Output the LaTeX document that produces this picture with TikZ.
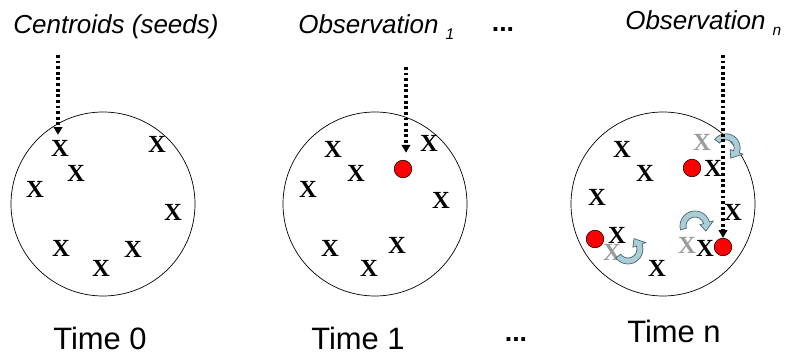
\documentclass[tikz,border=0pt]{standalone}
\usepackage{fontspec}
\setmainfont{Liberation Sans}
\newfontfamily\xfont{Liberation Serif}
\usetikzlibrary{arrows.meta,calc}
\definecolor{dotred}{RGB}{255,0,0}
\definecolor{oldgray}{RGB}{155,155,155}
\definecolor{bendfill}{RGB}{170,206,214}
\definecolor{bendline}{RGB}{75,100,110}
\tikzset{
  xmark/.style={font=\xfont\bfseries\fontsize{17.5}{19}\selectfont, inner sep=0pt},
  oldmark/.style={xmark, text=oldgray},
  obsdot/.style={circle, fill=dotred, draw=black, line width=0.4pt,
    minimum size=0.44cm, inner sep=0pt},
  cluster/.style={circle, draw, line width=0.5pt, minimum size=4.6cm, inner sep=0pt},
  obsline/.style={line width=2.3pt, dash pattern=on 2pt off 2pt,
    -{Triangle[length=5.5pt,width=6pt]}},
  toplabel/.style={font=\itshape\fontsize{18.5}{20}\selectfont, inner sep=0pt},
  timelabel/.style={font=\fontsize{22}{24}\selectfont, inner sep=0pt, anchor=base},
  bentarrow/.style={fill=bendfill, draw=bendline, line width=0.5pt},
}
% curved block arrow: centre, radius, from angle, to angle, tip angle
\newcommand{\bendarrow}[5]{%
  \pgfmathsetmacro\bendout{#2+0.075}
  \pgfmathsetmacro\bendin{#2-0.075}
  \pgfmathsetmacro\headout{#2+0.17}
  \pgfmathsetmacro\headin{#2-0.17}
  \filldraw[bentarrow] ($(#1)+(#3:\bendout)$)
    arc[start angle=#3, end angle=#4, radius=\bendout]
    -- ($(#1)+(#4:\headout)$) -- ($(#1)+(#5:#2)$) -- ($(#1)+(#4:\headin)$)
    -- ($(#1)+(#4:\bendin)$)
    arc[start angle=#4, end angle=#3, radius=\bendin] -- cycle;
}

\begin{document}
\begin{tikzpicture}
\useasboundingbox (0,0) rectangle (19.65,8.95);

%% Labels
\node[toplabel, anchor=base] (lab0) at (2.9,8.1) {Centroids (seeds)};
\node[toplabel, anchor=base west] (lab1) at (7.45,8.1)
  {Observation \raisebox{-0.4ex}{\fontsize{11}{12}\selectfont 1}};
\node[toplabel, font=\bfseries\fontsize{19}{20}\selectfont, anchor=base] (dtop) at (12.575,8.15) {...};
\node[toplabel, anchor=base west] (labn) at (15.625,8.2)
  {Observation \raisebox{-0.4ex}{\fontsize{11}{12}\selectfont n}};
\node[timelabel] (t0) at (2.5,0.2) {Time 0};
\node[timelabel] (t1) at (8.95,0.2) {Time 1};
\node[timelabel, font=\bfseries\fontsize{19}{20}\selectfont] (dbot) at (12.9,0.4) {...};
\node[timelabel] (tn) at (16.85,0.375) {Time n};

%% Stage 0
\begin{scope}[xshift=2.575cm, yshift=3.85cm]
  \node[cluster] (c0) at (0,0) {};
  \node[xmark] (x0a) at (-1.075,1.4) {X};
  \node[xmark] (x0b) at (1.35,1.5) {X};
  \node[xmark] (x0c) at (-0.675,0.775) {X};
  \node[xmark] (x0d) at (-1.7,0.375) {X};
  \node[xmark] (x0e) at (1.75,-0.2) {X};
  \node[xmark] (x0f) at (-1.05,-1.1) {X};
  \node[xmark] (x0g) at (0.75,-1.125) {X};
  \node[xmark] (x0h) at (-0.05,-1.6) {X};
  \coordinate (s0) at (-1.125,3.725);
  \draw[obsline, shorten >=1.2mm] (s0) -- (s0 |- x0a.north);
\end{scope}

%% Stage 1
\begin{scope}[xshift=9.375cm, yshift=3.85cm]
  \node[cluster] (c1) at (0,0) {};
  \node[xmark] (x1a) at (-1.05,1.375) {X};
  \node[xmark] (x1b) at (-0.475,0.775) {X};
  \node[xmark] (x1c) at (-1.675,0.375) {X};
  \node[xmark] (x1d) at (1.35,1.525) {X};
  \node[xmark] (x1e) at (1.65,0.1) {X};
  \node[xmark] (x1f) at (-1.125,-1.1) {X};
  \node[xmark] (x1g) at (0.55,-1.025) {X};
  \node[xmark] (x1h) at (-0.15,-1.6) {X};
  \node[obsdot] (o1) at (0.7,0.875) {};
  \coordinate (s1) at (0.775,3.425);
  \draw[obsline, shorten >=1.8mm] (s1) -- (s1 |- o1.north);
\end{scope}

%% Stage n
\begin{scope}[xshift=16.575cm, yshift=3.85cm]
  \node[cluster] (cn) at (0,0) {};
  \node[oldmark] (gna) at (0.975,1.55) {X};
  \node[oldmark] (gnb) at (-1.275,-1.22) {X};
  \node[oldmark] (gnc) at (0.6,-1.025) {X};
  \node[xmark] (xna) at (-1.025,1.375) {X};
  \node[xmark] (xnb) at (-0.45,0.775) {X};
  \node[xmark] (xnc) at (-1.65,0.175) {X};
  \node[xmark] (xnd) at (-1.15,-0.775) {X};
  \node[xmark] (xne) at (-0.15,-1.6) {X};
  \node[xmark] (xnf) at (1.75,-0.2) {X};
  \node[xmark] (xng) at (1.25,0.9) {X};
  \node[xmark] (xnh) at (1.05,-1.1) {X};
  \node[obsdot] (ona) at (0.725,0.9) {};
  \node[obsdot] (onb) at (-1.7,-0.875) {};
  \node[obsdot] (onc) at (1.5,-1.075) {};
  \bendarrow{1.575,1.4}{0.28}{143}{-20}{-65}
  \bendarrow{0.8,-0.55}{0.3}{195}{15}{-25}
  \bendarrow{-0.875,-1.125}{0.3}{216}{380}{420}
  \coordinate (sn) at (1.5,3.725);
  \draw[obsline] (sn) -- (onc);
\end{scope}

\end{tikzpicture}
\end{document}
